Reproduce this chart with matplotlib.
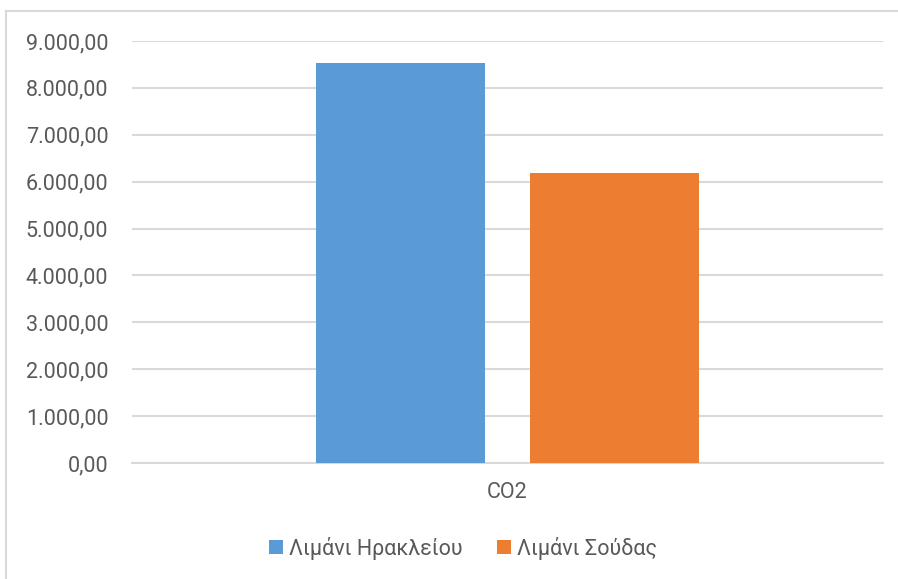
import matplotlib.pyplot as plt
from matplotlib.lines import Line2D
from matplotlib.patches import Patch
from matplotlib.ticker import FuncFormatter, MultipleLocator

plt.rcParams['font.family'] = ['Roboto', 'DejaVu Sans']

categories = ['CO2']
series_names = ['Λιμάνι Ηρακλείου', 'Λιμάνι Σούδας']
series_values = [[8530.0], [6185.0]]
series_colors = ['#5b9bd5', '#ed7d31']

TEXT = '#595959'
GRID = '#d9d9d9'


def greek_number(v, pos=None):
    # 9000 -> "9.000,00"
    s = f'{v:,.2f}'
    return s.replace(',', '#').replace('.', ',').replace('#', '.')


W, H = 898, 579
fig = plt.figure(figsize=(W / 100, H / 100), dpi=100)
ax = fig.add_axes([132 / W, 1 - 463 / H, 751 / W, 422 / H])

bar_w = 0.225
offsets = [-0.1425, 0.1425]
for name, vals, col, off in zip(series_names, series_values, series_colors, offsets):
    xs = [i + off for i in range(len(categories))]
    ax.bar(xs, vals, width=bar_w, color=col, label=name, zorder=3)

ax.set_xlim(-0.5, len(categories) - 0.5)
ax.set_ylim(0, 9000)
ax.yaxis.set_major_locator(MultipleLocator(1000))
ax.yaxis.set_major_formatter(FuncFormatter(greek_number))
ax.set_xticks(range(len(categories)))
ax.set_xticklabels(categories)

ax.grid(axis='y', color=GRID, linewidth=1.5, zorder=0)
for side in ['top', 'right', 'left']:
    ax.spines[side].set_visible(False)
ax.spines['bottom'].set_color(GRID)
ax.spines['bottom'].set_linewidth(1.5)
ax.tick_params(axis='y', length=0, pad=17, labelsize=15.5, labelcolor=TEXT)
ax.tick_params(axis='x', length=0, pad=14, labelsize=15.5, labelcolor=TEXT)

# chart area frame (top and left edges)
fig.add_artist(Line2D([6 / W, 6 / W], [0, 1 - 11 / H], color=GRID, linewidth=1.5,
                      transform=fig.transFigure))
fig.add_artist(Line2D([6 / W, 1], [1 - 11 / H, 1 - 11 / H], color=GRID, linewidth=1.5,
                      transform=fig.transFigure))

handles = [Patch(facecolor=c, edgecolor='none') for c in series_colors]
fig.legend(handles, series_names, loc='center', bbox_to_anchor=(463 / W, 1 - 548 / H),
           ncol=2, frameon=False, fontsize=15.5, labelcolor=TEXT,
           handlelength=0.65, handleheight=0.65, handletextpad=0.3, columnspacing=1.6)

fig.savefig('out.png', dpi=100)
